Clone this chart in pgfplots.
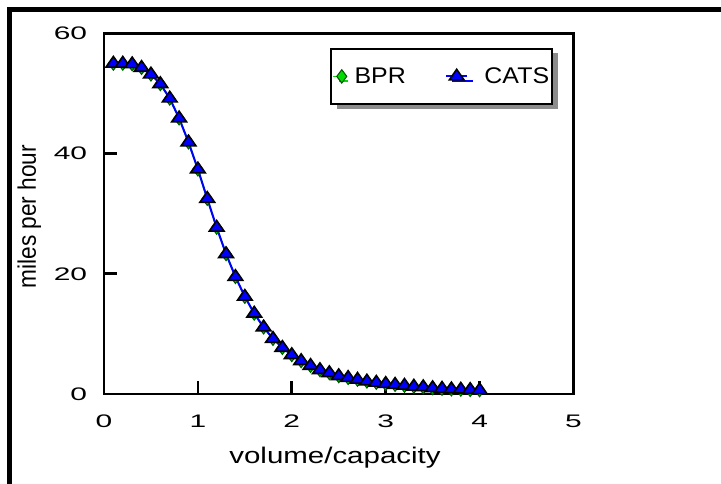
\documentclass[border=0pt]{standalone}
\usepackage{pgfplots}
\pgfplotsset{compat=1.18}
\usepackage{pgfplotstable}
\usepackage{fontspec}
\setmainfont{Liberation Sans}
\newfontfamily\tickfont{Liberation Sans}[FakeStretch=1.65]
\newfontfamily\xlabfont{Liberation Sans}[FakeStretch=1.3]
\newfontfamily\legfont{Liberation Sans}[FakeStretch=1.1]
\usetikzlibrary{shadows}
\definecolor{catsblue}{RGB}{0,0,255}
\definecolor{bprgreen}{RGB}{0,220,0}
\definecolor{bpredge}{RGB}{0,90,0}

\pgfplotsset{
  bprleg/.style={legend image code/.code={\draw[mark repeat=2,mark phase=2,##1] plot coordinates {(-0.22cm,0cm)(0cm,0cm)(0cm,0cm)}; \path (0.28cm,0cm);}},
  catsleg/.style={legend image code/.code={\draw[mark repeat=2,mark phase=2,##1] plot coordinates {(-0.27cm,0cm)(0cm,0cm)(0.27cm,0cm)}; \path (0.39cm,0cm);}},
}

\pgfplotstableread{
x y
0.1 55.0
0.2 55.0
0.3 54.9
0.4 54.3
0.5 53.2
0.6 51.6
0.7 49.2
0.8 45.9
0.9 41.9
1.0 37.4
1.1 32.5
1.2 27.7
1.3 23.3
1.4 19.5
1.5 16.2
1.6 13.4
1.7 11.1
1.8 9.2
1.9 7.7
2.0 6.5
2.1 5.5
2.2 4.7
2.3 4.0
2.4 3.5
2.5 3.0
2.6 2.7
2.7 2.4
2.8 2.1
2.9 1.9
3.0 1.7
3.1 1.55
3.2 1.4
3.3 1.25
3.4 1.15
3.5 1.0
3.6 0.9
3.7 0.8
3.8 0.75
3.9 0.7
4.0 0.65
}\catsdata

\pgfplotstableread{
x y
0.1 55.0
0.2 55.0
0.3 54.9
0.4 54.3
0.5 53.2
0.6 51.6
0.7 49.2
0.8 45.9
0.9 41.9
1.0 37.4
1.1 32.5
1.2 27.7
1.3 23.3
1.4 19.5
1.5 16.2
1.6 13.4
1.7 11.1
1.8 9.2
1.9 7.7
2.0 6.5
2.1 5.5
2.2 4.7
2.3 4.0
2.4 3.5
2.5 3.0
2.6 2.7
2.7 2.4
2.8 2.1
2.9 1.9
3.0 1.7
3.1 1.55
3.2 1.4
3.3 1.25
3.4 1.15
3.5 1.0
3.6 0.9
3.7 0.8
3.8 0.75
3.9 0.7
4.0 0.65
}\bprdata

\begin{document}
\begin{tikzpicture}[x=0.75pt,y=0.75pt]
\useasboundingbox (0,0) rectangle (721,483);
\draw[line width=3.6pt] (9.3,-5) -- (9.3,473.5) -- (730,473.5);
\begin{axis}[
  at={(78pt,66.75pt)}, anchor=south west,
  scale only axis, width=352.1pt, height=270.4pt,
  xmin=0, xmax=5, ymin=0, ymax=60,
  xtick={0,1,2,3,4,5}, ytick={0,20,40,60},
  tick pos=left, tick align=inside, major tick length=10pt,
  axis line style={line width=2.2pt},
  major tick style={black, line width=2pt},
  /pgf/number format/assume math mode=true,
  xticklabel={\tickfont\fontsize{13.6}{13.6}\selectfont\pgfmathprintnumber[assume math mode=true]{\tick}},
  yticklabel={\tickfont\fontsize{13.6}{13.6}\selectfont\pgfmathprintnumber[assume math mode=true]{\tick}},
  tick label style={inner sep=0pt},
  xticklabel style={anchor=north, yshift=-15.5pt},
  yticklabel style={anchor=east, xshift=-12.5pt},
  xlabel={volume/capacity}, ylabel={\scalebox{1}[1.12]{miles per hour}},
  xlabel style={font=\xlabfont\fontsize{17}{17}\selectfont, at={(axis description cs:0.492,0)}, anchor=base, yshift=-51.75pt},
  ylabel style={font=\fontsize{17}{17}\selectfont, at={(axis description cs:-0.159,0.492)}, anchor=center},
  clip=false,
  legend columns=2,
  legend style={
    at={(axis description cs:0.719,0.881)}, anchor=center,
    draw=black, line width=1.5pt, fill=white,
    drop shadow={shadow xshift=4.5pt, shadow yshift=-3.5pt, fill=black!45, opacity=1},
    font=\legfont\fontsize{17}{17}\selectfont,
    nodes={inner xsep=1pt},
    inner xsep=1.5pt, inner ysep=12pt,
    /tikz/every even column/.append style={column sep=28.75pt},
  },
]
\addplot[color=bprgreen, line width=1.2pt, mark=diamond*, mark size=5pt,
  mark options={fill=bprgreen, draw=bpredge, line width=0.8pt, solid}, bprleg]
  table {\bprdata};
\addlegendentry{BPR}
\addplot[color=catsblue, line width=1.5pt, mark=triangle*, mark size=5.3pt,
  mark options={fill=catsblue, draw=black, line width=1.2pt, xscale=1.2, solid}, catsleg]
  table {\catsdata};
\addlegendentry{\hspace{8pt}CATS}
\end{axis}
\end{tikzpicture}
\end{document}
